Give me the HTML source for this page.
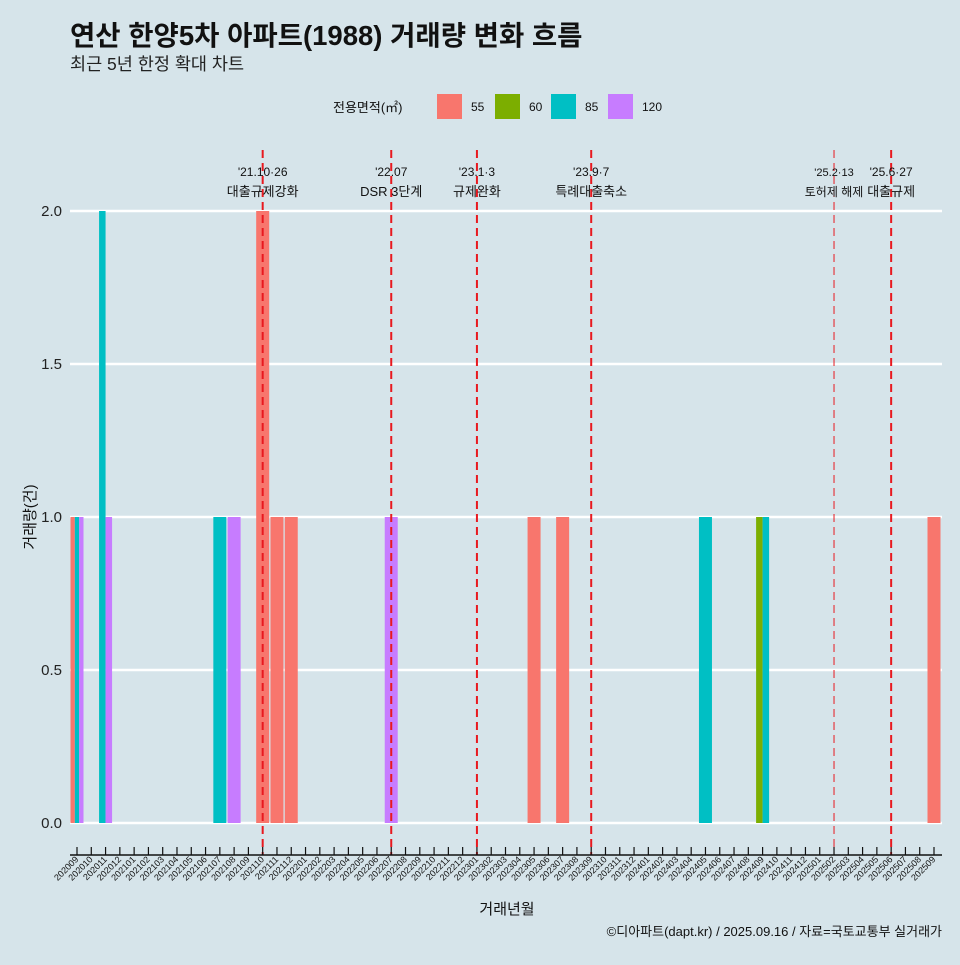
<!DOCTYPE html>
<html><head><meta charset="utf-8"><style>
body{margin:0;background:#d6e4ea;}
svg text{font-family:"Liberation Sans","Noto Sans CJK KR",sans-serif;}
</style></head><body>
<svg width="960" height="960" viewBox="0 0 960 960">
<rect width="960" height="960" fill="#d6e4ea"/>
<text x="70" y="45" font-size="27.5" font-weight="bold" fill="#111">연산 한양5차 아파트(1988) 거래량 변화 흐름</text>
<text x="70" y="70" font-size="17.5" fill="#222">최근 5년 한정 확대 차트</text>
<g id="legend"></g>
<g id="grid"></g>
<g id="bars"></g>
<g id="events"></g>
<g id="xaxis"></g>
<text x="507" y="914" font-size="15" text-anchor="middle" fill="#111">거래년월</text>
<text transform="translate(35,517) rotate(-90)" font-size="15" text-anchor="middle" fill="#111">거래량(건)</text>
<text x="942" y="936" font-size="13" text-anchor="end" fill="#111">©디아파트(dapt.kr) / 2025.09.16 / 자료=국토교통부 실거래가</text>
</svg>
<script>
const NS="http://www.w3.org/2000/svg";
const months=[];
for(let y=2020;y<=2025;y++)for(let m=1;m<=12;m++){const k=y*100+m;if(k>=202009&&k<=202509)months.push(String(k));}
const areas=["55","60","85","120"];
const colors={"55":"#f8766d","60":"#7cae00","85":"#00bfc4","120":"#c77cff"};
const dealMonths=["202009","202009","202009","202011","202011","202107","202108","202110","202111","202112","202207","202305","202307","202405","202409","202409","202509"];
const dealAreas=["55","85","120","85","120","85","120","55","55","55","120","55","55","85","60","85","55"];
const dealCounts=[1,1,1,2,1,1,1,2,1,1,1,1,1,1,1,1,1];
const yTicks=[0,0.5,1,1.5,2];
const yTickLabels=["0.0","0.5","1.0","1.5","2.0"];
const eventMonths=["202110","202207","202301","202309","202502","202506"];
const eventDates=["'21.10·26","'22.07","'23.1·3","'23.9·7","'25.2·13","'25.6·27"];
const eventNames=["대출규제강화","DSR 3단계","규제완화","특례대출축소","토허제 해제","대출규제"];
const eventMinor=[false,false,false,false,true,false];
const x0=77,dx=(934-77)/60,bw=13;
const xs=m=>x0+months.indexOf(m)*dx;
const ys=v=>823-v*306;
function el(t,a,p){const e=document.createElementNS(NS,t);for(const k in a)e.setAttribute(k,a[k]);p.appendChild(e);return e;}
const grid=document.getElementById('grid');
yTicks.forEach((v,i)=>{
 const l=el('line',{x1:70,x2:942,y1:ys(v),y2:ys(v),stroke:'#fff','stroke-width':2.4},grid);
 
 
 const t=el('text',{x:62,y:ys(v)+5,'font-size':15,'text-anchor':'end',fill:'#222'},grid);
 t.textContent=yTickLabels[i];
 
 
});
const bars=document.getElementById('bars');
const byMonth={};
dealMonths.forEach((m,i)=>{(byMonth[m]=byMonth[m]||[]).push(i);});
for(const m in byMonth){
 const idx=byMonth[m].sort((a,b)=>areas.indexOf(dealAreas[a])-areas.indexOf(dealAreas[b]));
 const w=bw/idx.length;
 idx.forEach((i,j)=>{
  const r=el('rect',{x:xs(m)-bw/2+j*w,y:ys(dealCounts[i]),width:w,height:ys(0)-ys(dealCounts[i]),fill:colors[dealAreas[i]]},bars);
  
  
 });
}
const ev=document.getElementById('events');
eventMonths.forEach((m,i)=>{
 const x=xs(m);
 const l=el('line',{x1:x,x2:x,y1:150,y2:855,stroke:'#e8191f','stroke-width':eventMinor[i]?1:2,'stroke-dasharray':'8,5'},ev);
 
 
 const fs=eventMinor[i]?11:12;
 const t1=el('text',{x:x,y:176,'font-size':fs,'text-anchor':'middle',fill:'#111'},ev);
 t1.textContent=eventDates[i];
 
 
 const t2=el('text',{x:x,y:196,'font-size':fs+1,'text-anchor':'middle',fill:'#111'},ev);
 t2.textContent=eventNames[i];
 
 
});
const xa=document.getElementById('xaxis');
const al=el('line',{x1:70,x2:942,y1:855,y2:855,stroke:'#111','stroke-width':1.5},xa);


months.forEach(m=>{
 const x=xs(m);
 const t=el('line',{x1:x,x2:x,y1:847,y2:855,stroke:'#111','stroke-width':1.2},xa);
 
 
 const lb=el('text',{transform:`translate(${x+2},860) rotate(-45)`,'font-size':9,'text-anchor':'end',fill:'#111'},xa);
 lb.textContent=m;
 
 
});
const lg=document.getElementById('legend');
const lt=el('text',{x:333,y:112,'font-size':13,fill:'#111'},lg);
lt.textContent='전용면적(㎡)';


const lx=[437,495,551,608];
areas.forEach((a,i)=>{
 const r=el('rect',{x:lx[i],y:94,width:25,height:25,fill:colors[a]},lg);
 
 
 const t=el('text',{x:lx[i]+34,y:111,'font-size':12,fill:'#111'},lg);
 t.textContent=a;
 
 
});
</script>
</body></html>
